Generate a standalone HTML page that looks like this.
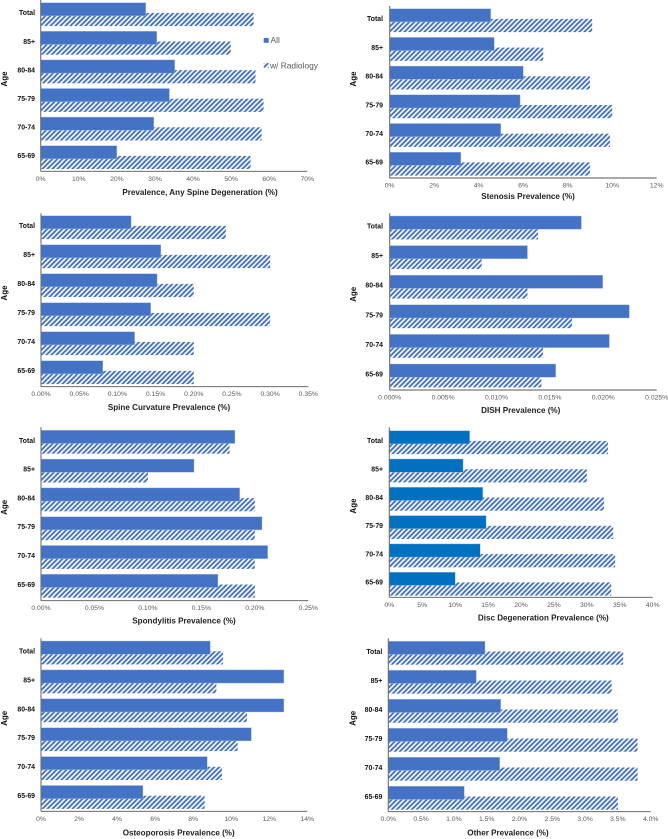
<!DOCTYPE html>
<html lang="en">
<head>
<meta charset="utf-8">
<title>Spine Prevalence Charts</title>
<style>
html,body{margin:0;padding:0;background:#fff;width:668px;height:839px;overflow:hidden}
svg{display:block;filter:blur(0.2px)}
text{font-family:"Liberation Sans",Arial,sans-serif}
</style>
</head>
<body>
<svg id="figure" xmlns="http://www.w3.org/2000/svg" width="668" height="839" viewBox="0 0 668 839">
<defs>
<pattern id="hatch" patternUnits="userSpaceOnUse" width="3.5355" height="3.5355" patternTransform="rotate(45)">
<rect width="3.5355" height="3.5355" fill="#fff"></rect>
<rect width="1.9" height="3.5355" fill="#4472c4"></rect>
</pattern>
</defs>
</svg>
<script>
const ageGroups = ['Total', '85+', '80-84', '75-79', '70-74', '65-69'];

const anySpineAll = [27.6, 30.5, 35.2, 33.8, 29.7, 20.0];
const anySpineRadiology = [55.9, 49.9, 56.4, 58.5, 58.0, 55.1];
const anySpineTicks = ['0%', '10%', '20%', '30%', '40%', '50%', '60%', '70%'];

const stenosisAll = [4.54, 4.7, 6.0, 5.86, 4.99, 3.2];
const stenosisRadiology = [9.1, 6.9, 9.0, 10.0, 9.9, 9.0];
const stenosisTicks = ['0%', '2%', '4%', '6%', '8%', '10%', '12%'];

const curvatureAll = [0.118, 0.157, 0.152, 0.1436, 0.1226, 0.081];
const curvatureRadiology = [0.242, 0.30, 0.20, 0.30, 0.20, 0.20];
const curvatureTicks = ['0.00%', '0.05%', '0.10%', '0.15%', '0.20%', '0.25%', '0.30%', '0.35%'];

const dishAll = [0.01795, 0.0129, 0.01994, 0.02244, 0.02057, 0.01554];
const dishRadiology = [0.01389, 0.00861, 0.0129, 0.01707, 0.01436, 0.0142];
const dishTicks = ['0.000%', '0.005%', '0.010%', '0.015%', '0.020%', '0.025%'];

const spondylitisAll = [0.1814, 0.1431, 0.1858, 0.2067, 0.212, 0.1655];
const spondylitisRadiology = [0.1764, 0.10, 0.20, 0.20, 0.20, 0.20];
const spondylitisTicks = ['0.00%', '0.05%', '0.10%', '0.15%', '0.20%', '0.25%'];

const discAll = [12.2, 11.2, 14.2, 14.7, 13.8, 10.0];
const discRadiology = [33.2, 30.0, 32.6, 34.0, 34.3, 33.7];
const discTicks = ['0%', '5%', '10%', '15%', '20%', '25%', '30%', '35%', '40%'];

const osteoporosisAll = [8.9, 12.77, 12.77, 11.06, 8.74, 5.36];
const osteoporosisRadiology = [9.57, 9.22, 10.83, 10.34, 9.51, 8.6];
const osteoporosisTicks = ['0%', '2%', '4%', '6%', '8%', '10%', '12%', '14%'];

const otherAll = [1.474, 1.342, 1.713, 1.814, 1.698, 1.159];
const otherRadiology = [3.58, 3.405, 3.5, 3.8, 3.8, 3.5];
const otherTicks = ['0.0%', '0.5%', '1.0%', '1.5%', '2.0%', '2.5%', '3.0%', '3.5%', '4.0%'];

const panels = [
  {key:'any-spine', title:'Prevalence, Any Spine Degeneration (%)', all:anySpineAll, rad:anySpineRadiology, ticks:anySpineTicks, color:'#4472c4',
   x0:40.7, x1:307.3, top:-0.5, bottom:171.3, first:2.7, pitch:28.6, tickY:179.3, titleY:192.7, titleX:200, ageX:4.5, ageY:79, catR:35},
  {key:'stenosis', title:'Stenosis Prevalence (%)', all:stenosisAll, rad:stenosisRadiology, ticks:stenosisTicks, color:'#4472c4',
   x0:389.7, x1:656.7, top:6, bottom:178, first:8.7, pitch:28.7, tickY:186, titleY:196.3, titleX:528, ageX:353.7, ageY:79, catR:383},
  {key:'spine-curvature', title:'Spine Curvature Prevalence (%)', all:curvatureAll, rad:curvatureRadiology, ticks:curvatureTicks, color:'#4472c4',
   x0:41, x1:308.3, top:213.3, bottom:386.7, first:215.7, pitch:29, tickY:394.3, titleY:407.3, titleX:169, ageX:4.5, ageY:293, catR:35},
  {key:'dish', title:'DISH Prevalence (%)', all:dishAll, rad:dishRadiology, ticks:dishTicks, color:'#4472c4',
   x0:389.7, x1:656.7, top:213.3, bottom:390, first:216, pitch:29.6, tickY:398, titleY:410.7, titleX:520.7, ageX:353.7, ageY:294.3, catR:383},
  {key:'spondylitis', title:'Spondylitis Prevalence (%)', all:spondylitisAll, rad:spondylitisRadiology, ticks:spondylitisTicks, color:'#4472c4',
   x0:41, x1:308.3, top:427.3, bottom:600.7, first:430.3, pitch:28.8, tickY:608.3, titleY:621, titleX:184, ageX:4.5, ageY:507.3, catR:35},
  {key:'disc-degeneration', title:'Disc Degeneration Prevalence (%)', all:discAll, rad:discRadiology, ticks:discTicks, color:'#0070c0',
   x0:389.3, x1:652.7, top:427.3, bottom:597.3, first:430.7, pitch:28.3, tickY:605.3, titleY:618, titleX:543.3, ageX:353.7, ageY:506, catR:383},
  {key:'osteoporosis', title:'Osteoporosis Prevalence (%)', all:osteoporosisAll, rad:osteoporosisRadiology, ticks:osteoporosisTicks, color:'#4472c4',
   x0:41, x1:307.3, top:638.3, bottom:811.3, first:641, pitch:28.9, tickY:819.3, titleY:833, titleX:178.7, ageX:4.5, ageY:718.3, catR:35},
  {key:'other', title:'Other Prevalence (%)', all:otherAll, rad:otherRadiology, ticks:otherTicks, color:'#4472c4',
   x0:388.3, x1:650.7, top:638.3, bottom:811.7, first:641.3, pitch:29, tickY:819.7, titleY:833, titleX:508, ageX:353, ageY:718.3, catR:382.3}
];

const SVG_NS = 'http://www.w3.org/2000/svg';
const BAR_H = 13.2;
const HATCH_OFFSET = 10.2;
const figure = document.getElementById('figure');

function make(parent, tag, attrs, content) {
  const el = document.createElementNS(SVG_NS, tag);
  Object.keys(attrs).forEach(function (k) { el.setAttribute(k, attrs[k]); });
  if (content !== undefined) el.textContent = content;
  parent.appendChild(el);
  return el;
}

function drawPanel(p) {
  const g = make(figure, 'g', {});
  
  

  const domainMax = parseFloat(p.ticks[p.ticks.length - 1]);
  const xScale = function (v) { return p.x0 + (v / domainMax) * (p.x1 - p.x0); };
  const slotTop = function (i) { return p.first + i * p.pitch; };

  ageGroups.forEach(function (age, i) {
    const hatchBar = make(g, 'rect', {x: p.x0, y: slotTop(i) + HATCH_OFFSET, width: xScale(p.rad[i]) - p.x0, height: BAR_H, fill: 'url(#hatch)'});
    
    
  });

  ageGroups.forEach(function (age, i) {
    const solidBar = make(g, 'rect', {x: p.x0, y: slotTop(i), width: xScale(p.all[i]) - p.x0, height: BAR_H, fill: p.color, stroke: '#a9c0e8', 'stroke-width': 0.4});
    
    

    const catLabel = make(g, 'text', {x: p.catR, y: slotTop(i) + 11, 'text-anchor': 'end', 'dominant-baseline': 'central', 'font-size': 6.9, 'font-weight': 'bold', fill: '#111'}, age);
    
    
  });

  const yAxis = make(g, 'line', {x1: p.x0, x2: p.x0, y1: p.top, y2: p.bottom, stroke: '#6f6f6f', 'stroke-width': 1.1});
  
  

  const xAxis = make(g, 'line', {x1: p.x0, x2: p.x1, y1: p.bottom, y2: p.bottom, stroke: '#555', 'stroke-width': 0.9});
  
  

  p.ticks.forEach(function (label) {
    const tick = make(g, 'text', {x: xScale(parseFloat(label)), y: p.tickY, 'text-anchor': 'middle', 'dominant-baseline': 'central', 'font-size': 6.8, fill: '#595959'}, label);
    
    
  });

  const xTitle = make(g, 'text', {x: p.titleX, y: p.titleY, 'text-anchor': 'middle', 'dominant-baseline': 'central', 'font-size': 8.1, 'font-weight': 'bold', fill: '#222'}, p.title);
  
  

  const yTitle = make(g, 'text', {x: 0, y: 0, transform: 'translate(' + p.ageX + ' ' + p.ageY + ') rotate(-90)', 'text-anchor': 'middle', 'dominant-baseline': 'central', 'font-size': 8, 'font-weight': 'bold', fill: '#111'}, 'Age');
  
  
}

panels.forEach(drawPanel);

const legend = make(figure, 'g', {});



const legendAllSwatch = make(legend, 'rect', {x: 263.7, y: 38, width: 5, height: 4.8, fill: '#4472c4'});



const legendAllText = make(legend, 'text', {x: 270.5, y: 40.2, 'dominant-baseline': 'central', 'font-size': 8.4, fill: '#595959'}, 'All');



const legendRadSwatch = make(legend, 'rect', {x: 263.7, y: 63, width: 5, height: 4.8, fill: 'url(#hatch)'});



const legendRadText = make(legend, 'text', {x: 270, y: 65.3, 'dominant-baseline': 'central', 'font-size': 8.4, fill: '#595959'}, 'w/ Radiology');


</script>
</body>
</html>
